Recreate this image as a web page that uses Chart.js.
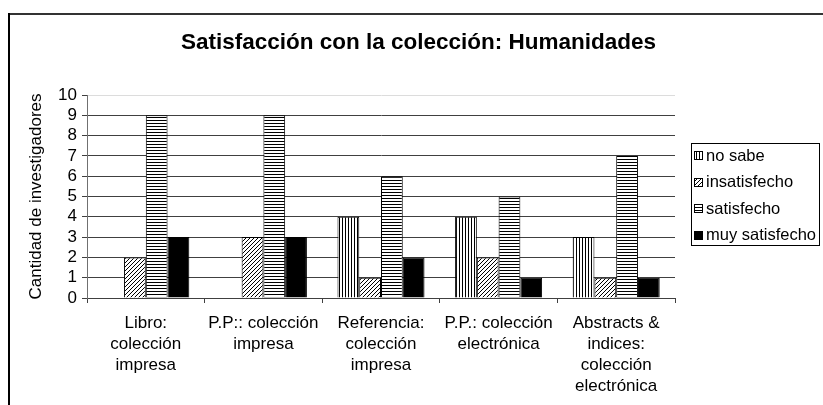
<!DOCTYPE html>
<html>
<head>
<meta charset="utf-8">
<script src="https://cdn.jsdelivr.net/npm/chart.js@4.4.0/dist/chart.umd.min.js"></script>
<style>
  html, body { margin: 0; padding: 0; background: #fff; }
  canvas { display: block; }
</style>
</head>
<body>
<canvas id="grafico" width="823" height="405"></canvas>
<script>
// datos
const categorias = [
  ["Libro:", "colección", "impresa"],
  ["P.P:: colección", "impresa"],
  ["Referencia:", "colección", "impresa"],
  ["P.P.: colección", "electrónica"],
  ["Abstracts &", "indices:", "colección", "electrónica"]
];
const series = ["no sabe", "insatisfecho", "satisfecho", "muy satisfecho"];
const noSabe = [0, 0, 4, 4, 3];
const insatisfecho = [2, 3, 1, 2, 1];
const satisfecho = [9, 9, 6, 5, 7];
const muySatisfecho = [3, 3, 2, 1, 1];

const fuente = '"Liberation Sans", Arial, sans-serif';

// tramas tipo Excel
function trama(tipo) {
  const c = document.createElement("canvas");
  const n = tipo === "diagonal" ? 4 : 3;
  c.width = n; c.height = n;
  const g = c.getContext("2d");
  g.fillStyle = "#fff";
  g.fillRect(0, 0, n, n);
  g.fillStyle = "#000";
  if (tipo === "vertical") g.fillRect(0, 0, 1, n);
  if (tipo === "horizontal") g.fillRect(0, 0, n, 1);
  if (tipo === "diagonal") {
    for (let i = 0; i < n; i++) g.fillRect(i, n - 1 - i, 1, 1);
  }
  return g.createPattern(c, "repeat");
}

const colores = [trama("vertical"), trama("diagonal"), trama("horizontal"), "#000"];
const valores = [noSabe, insatisfecho, satisfecho, muySatisfecho];

// marco exterior del gráfico
const marco = {
  id: "marco",
  beforeDraw(chart) {
    const ctx = chart.ctx;
    ctx.save();
    ctx.fillStyle = "#fff";
    ctx.fillRect(0, 0, chart.width, chart.height);
    ctx.fillStyle = "#333";
    ctx.fillRect(9, 13, chart.width - 9, 2);
    ctx.fillStyle = "#000";
    ctx.fillRect(8, 13, 2, chart.height - 13);
    ctx.restore();
  }
};

// leyenda con recuadro
const leyenda = {
  id: "leyenda",
  afterDraw(chart) {
    const ctx = chart.ctx;
    ctx.save();
    ctx.strokeStyle = "#000";
    ctx.lineWidth = 1;
    ctx.strokeRect(691.5, 143.5, 128, 102);
    ctx.font = "16.5px " + fuente;
    ctx.textBaseline = "middle";
    chart.data.datasets.forEach((ds, i) => {
      const y = 156 + i * 26.5;
      ctx.fillStyle = ds.backgroundColor;
      ctx.fillRect(694, Math.round(y - 5), 9, 9);
      ctx.strokeRect(694.5, Math.round(y - 5) + 0.5, 8, 8);
      ctx.fillStyle = "#000";
      ctx.fillText(ds.label, 706, y);
    });
    ctx.restore();
  }
};

new Chart(document.getElementById("grafico"), {
  type: "bar",
  data: {
    labels: categorias,
    datasets: series.map((nombre, i) => ({
      label: nombre,
      data: valores[i],
      backgroundColor: colores[i],
      borderColor: "#000",
      borderWidth: 1,
      categoryPercentage: 0.74,
      barPercentage: 1
    }))
  },
  options: {
    responsive: false,
    animation: false,
    layout: { padding: { left: 14 } },
    plugins: {
      legend: { display: false },
      tooltip: { enabled: false },
      title: {
        display: true,
        text: "Satisfacción con la colección: Humanidades",
        color: "#000",
        font: { family: fuente, size: 22.5, weight: "bold" },
        padding: { top: 29, bottom: 39 }
      }
    },
    scales: {
      x: {
        grid: { drawOnChartArea: false, color: "#404040", tickLength: 5 },
        border: { color: "#404040" },
        ticks: {
          color: "#000",
          font: { family: fuente, size: 17, lineHeight: 1.24 },
          padding: 10,
          maxRotation: 0,
          minRotation: 0,
          autoSkip: false
        },
        afterFit(s) { s.height = 107; }
      },
      y: {
        min: 0,
        max: 10,
        ticks: {
          stepSize: 1,
          autoSkip: false,
          color: "#000",
          padding: 5,
          font: { family: fuente, size: 17 }
        },
        grid: {
          color: c => (c.tick && c.tick.value === 10 ? "#dcdcdc" : "#404040"),
          tickColor: "#404040",
          tickLength: 5
        },
        border: { color: "#707070" },
        title: {
          display: true,
          text: "Cantidad de investigadores",
          color: "#000",
          font: { family: fuente, size: 17 },
          padding: { top: 12, bottom: 0 }
        },
        afterFit(s) { s.width = 73; }
      },
      relleno: {
        type: "linear",
        position: "right",
        grid: { display: false },
        ticks: { display: false },
        border: { display: false },
        afterFit(s) { s.width = 148; }
      }
    }
  },
  plugins: [marco, leyenda]
});
</script>
</body>
</html>
